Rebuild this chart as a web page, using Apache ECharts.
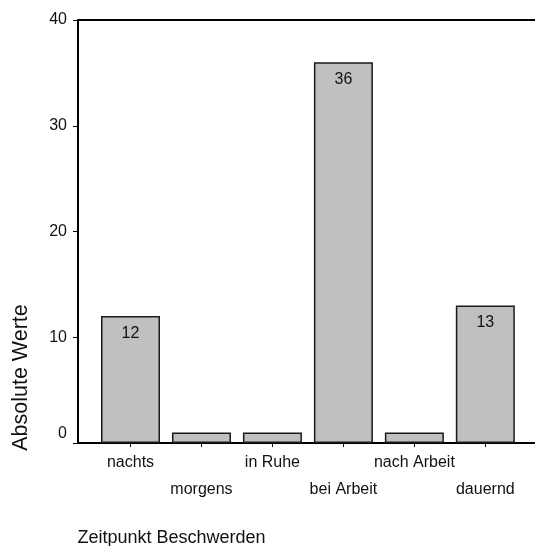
<!DOCTYPE html>
<html>
<head>
<meta charset="utf-8">
<script src="https://cdn.jsdelivr.net/npm/echarts@6/dist/echarts.min.js"></script>
<style>
html,body{margin:0;padding:0;background:#fff;}
#chart{width:535px;height:546px;}
</style>
</head>
<body>
<div id="chart"></div>
<script>
const categories = ["nachts", "morgens", "in Ruhe", "bei Arbeit", "nach Arbeit", "dauernd"];
const values = [12, 1, 1, 36, 1, 13];
const yTicks = [0, 10, 20, 30, 40];
const xTitle = "Zeitpunkt Beschwerden";
const yTitle = "Absolute Werte";

const FONT = "Liberation Sans, Arial, sans-serif";
const positions = categories.map((c, i) => i);
const barData = values.map((v, i) => [i, v]);

const chart = echarts.init(document.getElementById('chart'), null, {renderer: 'canvas'});
chart.setOption({
  animation: false,
  backgroundColor: '#ffffff',
  grid: {left: 78, right: 0, top: 20, bottom: 103, containLabel: false, outerBoundsMode: 'none'},
  xAxis: [{
    type: 'value',
    position: 'bottom',
    min: -0.74,
    max: 5.7,
    splitLine: {show: false},
    axisLine: {show: true, onZero: false, lineStyle: {color: '#000', width: 2}},
    axisTick: {show: true, customValues: positions, length: 4, inside: false, lineStyle: {color: '#000', width: 1}},
    axisLabel: {
      customValues: positions,
      margin: 6,
      fontFamily: FONT, fontSize: 16, color: '#111', lineHeight: 27,
      formatter: function (v) {
        const i = Math.round(v);
        return (i % 2 === 1 ? '\n' : '') + categories[i];
      }
    },
    name: xTitle,
    nameLocation: 'middle',
    nameGap: 86,
    nameTextStyle: {fontFamily: FONT, fontSize: 18, color: '#111', padding: [0, 270, 0, 0], verticalAlign: 'top'}
  }, {
    type: 'value',
    position: 'top',
    min: -0.74,
    max: 5.7,
    splitLine: {show: false},
    axisLine: {show: true, onZero: false, lineStyle: {color: '#000', width: 2}},
    axisTick: {show: false},
    axisLabel: {show: false}
  }],
  yAxis: {
    type: 'value',
    min: yTicks[0],
    max: yTicks[yTicks.length - 1],
    interval: 10,
    splitLine: {show: false},
    axisLine: {show: true, onZero: false, lineStyle: {color: '#000', width: 2}},
    axisTick: {show: true, length: 5, lineStyle: {color: '#000', width: 1}},
    axisLabel: {
      margin: 11, fontFamily: FONT, fontSize: 16, color: '#111',
      formatter: function (v) { return v === 0 ? '{z|0}' : String(v); },
      rich: {z: {fontFamily: FONT, fontSize: 16, color: '#111', padding: [0, 0, 18, 0]}}
    },
    name: yTitle,
    nameLocation: 'middle',
    nameRotate: 90,
    nameGap: 46,
    nameTextStyle: {fontFamily: FONT, fontSize: 21.5, color: '#111', padding: [0, 292, 0, 0]}
  },
  series: [{
    type: 'bar',
    xAxisIndex: 0,
    data: barData,
    barWidth: 59,
    itemStyle: {color: '#c0c0c0', borderColor: '#1a1a1a', borderWidth: 1.5},
    label: {
      show: true,
      position: 'insideTop',
      distance: 9,
      fontFamily: FONT, fontSize: 16, color: '#111',
      formatter: function (p) { return p.value[1] > 1 ? String(p.value[1]) : ''; }
    }
  }]
});
</script>
</body>
</html>
